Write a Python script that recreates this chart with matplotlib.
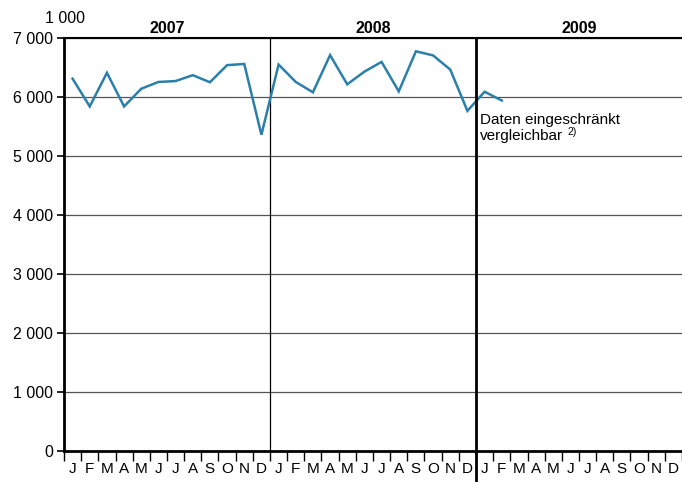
import numpy as np
import matplotlib.pyplot as plt
from matplotlib.lines import Line2D

plt.rcParams["font.family"] = ["Liberation Sans", "DejaVu Sans"]

months = ["J", "F", "M", "A", "M", "J", "J", "A", "S", "O", "N", "D"]
years = ["2007", "2008", "2009"]
values = [6310, 5840, 6410, 5840, 6140, 6255, 6270, 6370, 6250, 6540, 6560, 5360,
          6550, 6255, 6080, 6710, 6215, 6430, 6595, 6095, 6775, 6705, 6465, 5765,
          6090, 5940]
yticks = [0, 1000, 2000, 3000, 4000, 5000, 6000, 7000]
ytick_labels = ["0", "1 000", "2 000", "3 000", "4 000", "5 000", "6 000", "7 000"]

fig = plt.figure(figsize=(6.82, 4.82), dpi=100)
ax = fig.add_axes([64 / 682, 31 / 482, 618 / 682, 413 / 482])

x = np.arange(len(values)) + 0.5
ax.plot(x, values, color="#2b80aa", lw=1.8, solid_joinstyle="miter", zorder=4)

ax.set_xlim(0, 36)
ax.set_ylim(0, 7000)

# grid
for y in yticks[1:]:
    ax.axhline(y, color="#555555", lw=0.9, zorder=1)

ax.set_yticks(yticks)
ax.set_yticklabels(ytick_labels, fontsize=11.5)
ax.tick_params(axis="y", length=5, width=1.2, pad=3)

# month ticks on boundaries, labels centred
ax.set_xticks(np.arange(0, 37), minor=True)
ax.set_xticks(np.arange(36) + 0.5)
ax.set_xticklabels(months * 3, fontsize=11)
ax.tick_params(axis="x", which="major", length=0, pad=8)
ax.tick_params(axis="x", which="minor", length=7, width=1)

for s in ["left", "bottom"]:
    ax.spines[s].set_linewidth(2)
ax.spines["top"].set_linewidth(1.5)
ax.spines["right"].set_visible(False)

# year separators
ax.axvline(12, color="black", lw=0.9, zorder=2)
ax.add_line(Line2D([24, 24], [-0.08, 1], transform=ax.get_xaxis_transform(),
                   color="black", lw=2, clip_on=False, zorder=5))

for i, yr in enumerate(years):
    ax.text(12 * i + 6, 7030, yr, ha="center", va="bottom", fontsize=11.5, fontweight="bold")

ax.text(-0.031, 1.03, "1 000", transform=ax.transAxes, ha="left", va="bottom", fontsize=11.5)

ax.text(24.25, 5730, "Daten eingeschränkt", ha="left", va="top", fontsize=11)
t2 = ax.text(24.25, 5460, "vergleichbar", ha="left", va="top", fontsize=11)
ax.annotate("2)", xy=(1, 1), xycoords=t2, xytext=(3, 1), textcoords="offset points",
            ha="left", va="top", fontsize=7.5)

fig.savefig("out.png", dpi=100)
